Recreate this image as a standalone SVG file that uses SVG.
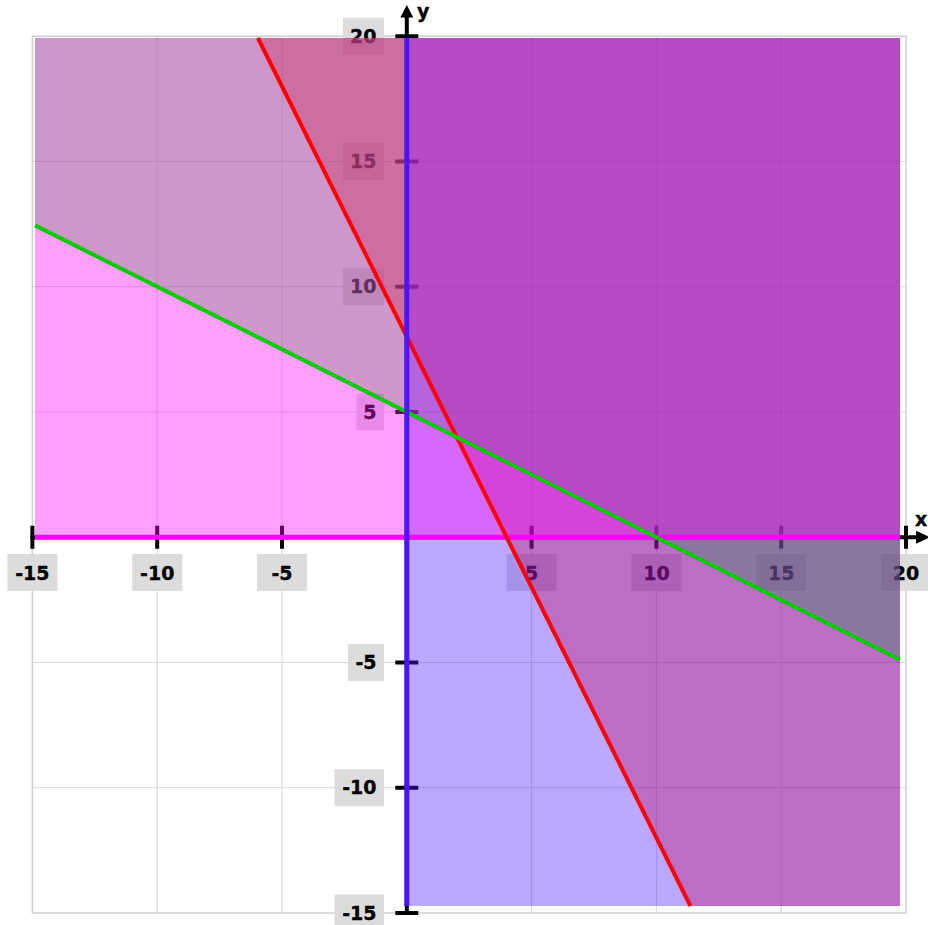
<svg xmlns="http://www.w3.org/2000/svg" width="928" height="925" viewBox="0 0 928 925">
<style>
.grid{stroke:#d6d6d6;stroke-width:1;fill:none}
.ax{stroke:#000;stroke-width:4;fill:none}
.tk{stroke:#000;stroke-width:4}
.lb{fill:#dcdcdc}
.t{font-family:"DejaVu Sans","Verdana",sans-serif;font-weight:bold;font-size:19px;fill:#000;stroke:#000;stroke-width:0.35px}
.tx{text-anchor:middle}
.ty{text-anchor:end}
</style>
<rect width="928" height="925" fill="#fff"/>
<g id="grid">
<path class="grid" d="M157.2,36.2V913M282,36.2V913M531.6,36.2V913M656.4,36.2V913M781.2,36.2V913M32.4,161.45H906M32.4,286.7H906M32.4,411.95H906M32.4,662.45H906M32.4,787.7H906"/>
<rect x="32.4" y="36.2" width="873.6" height="876.8" fill="none" stroke="#cfcfcf" stroke-width="1.5"/>
</g>
<g id="axes">
<path class="ax" d="M30.4,537.2H918M406.8,915V16"/>
<polygon points="916,530.7 930,537.2 916,543.7" fill="#000"/>
<polygon points="406.8,5 400.3,17.5 413.3,17.5" fill="#000"/>
<path class="tk" d="M32.4,525.7V548.7M157.2,525.7V548.7M282,525.7V548.7M531.6,525.7V548.7M656.4,525.7V548.7M781.2,525.7V548.7M906,525.7V548.7M395.3,36.2H418.3M395.3,161.45H418.3M395.3,286.7H418.3M395.3,411.95H418.3M395.3,662.45H418.3M395.3,787.7H418.3M395.3,912.95H418.3"/>
<text class="t" x="417" y="18" font-size="18">y</text>
<text class="t" x="915" y="526" font-size="18">x</text>
</g>
<g id="x-labels">
<rect class="lb" x="7.4" y="554" width="50" height="37"/><text class="t tx" x="32.4" y="580">-15</text>
<rect class="lb" x="132.2" y="554" width="50" height="37"/><text class="t tx" x="157.2" y="580">-10</text>
<rect class="lb" x="257" y="554" width="50" height="37"/><text class="t tx" x="282" y="580">-5</text>
<rect class="lb" x="506.6" y="554" width="50" height="37"/><text class="t tx" x="531.6" y="580">5</text>
<rect class="lb" x="631.4" y="554" width="50" height="37"/><text class="t tx" x="656.4" y="580">10</text>
<rect class="lb" x="756.2" y="554" width="50" height="37"/><text class="t tx" x="781.2" y="580">15</text>
<rect class="lb" x="881" y="554" width="50" height="37"/><text class="t tx" x="906" y="580">20</text>
</g>
<g id="y-labels">
<rect class="lb" x="343" y="17.7" width="41" height="37"/><text class="t ty" x="376.5" y="42.9">20</text>
<rect class="lb" x="343" y="142.95" width="41" height="37"/><text class="t ty" x="376.5" y="168.15">15</text>
<rect class="lb" x="343" y="268.2" width="41" height="37"/><text class="t ty" x="376.5" y="293.4">10</text>
<rect class="lb" x="356.5" y="393.45" width="27.5" height="37"/><text class="t ty" x="376.5" y="418.65">5</text>
<rect class="lb" x="348" y="643.95" width="36" height="37"/><text class="t ty" x="376.5" y="669.15">-5</text>
<rect class="lb" x="334.5" y="769.2" width="49.5" height="37"/><text class="t ty" x="376.5" y="794.4">-10</text>
<rect class="lb" x="334.5" y="894.45" width="49.5" height="37"/><text class="t ty" x="376.5" y="919.65">-15</text>
</g>
<g id="shading">
<polygon id="region-red" points="257.9,38 900,38 900,906 690.4,906" fill="#ff0000" fill-opacity="0.373"/>
<polygon id="region-green" points="35,225.4 35,38 900,38 900,659.7" fill="#14d400" fill-opacity="0.33"/>
<polygon id="region-blue" points="406.8,38 900,38 900,906 406.8,906" fill="#5019ff" fill-opacity="0.38"/>
<polygon id="region-magenta" points="35,38 900,38 900,537.2 35,537.2" fill="#ff00ff" fill-opacity="0.373"/>
</g>
<g id="connectors" fill="none">
<path d="M35,537.2H900" stroke="#ff00ff" stroke-width="5"/>
<path d="M257.9,38L690.4,906" stroke="#ff0000" stroke-width="4"/>
<path d="M35,225.4L900,659.7" stroke="#00cc00" stroke-width="4"/>
<path d="M406.8,38V906" stroke="#4c14ff" stroke-width="5"/>
</g>
</svg>
